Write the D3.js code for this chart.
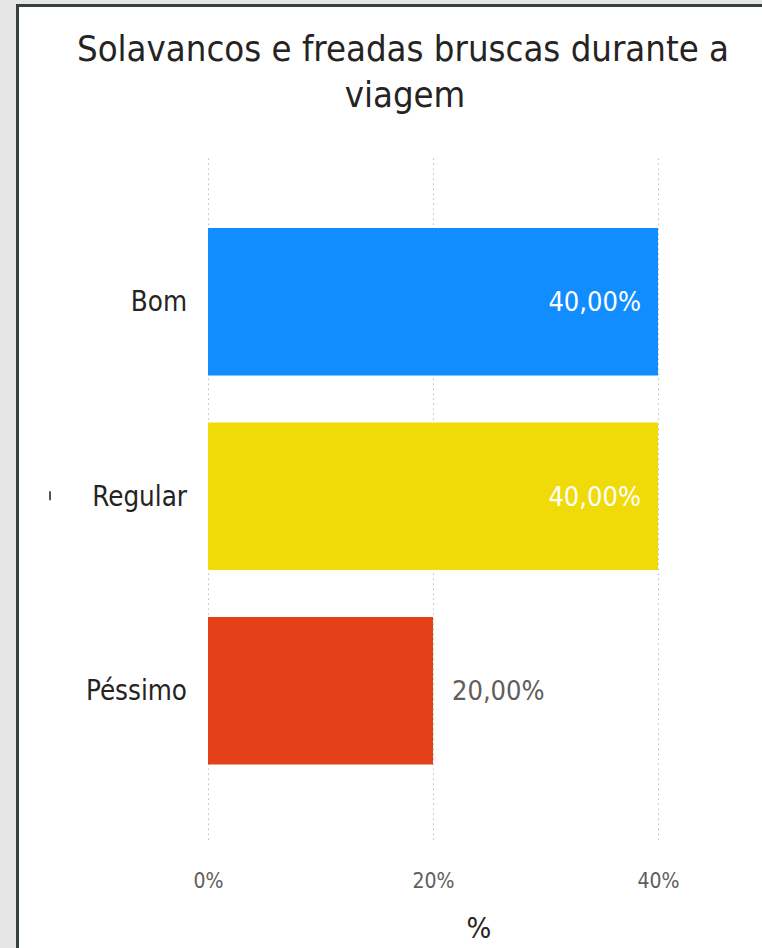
<!DOCTYPE html>
<html>
<head>
<meta charset="utf-8">
<script src="https://cdn.jsdelivr.net/npm/d3@7"></script>
<style>
  body { margin: 0; background: #e6e6e6; }
  svg { display: block; }
  text { font-family: "DejaVu Sans", sans-serif; font-stretch: condensed; }
</style>
</head>
<body>
<svg width="762" height="948"></svg>
<script>
const svg = d3.select('svg');

const width = +svg.attr('width');
const height = +svg.attr('height');

// data
const categories = ['Bom', 'Regular', 'Péssimo'];
const values = [40, 40, 20];
const barColors = ['#118DFF', '#F0DA07', '#E4411A'];
const tickValues = [0, 20, 40];
const titleLines = ['Solavancos e freadas bruscas durante a', 'viagem'];

const margin = { top: 155, left: 208, right: 104, bottom: 108 };
const innerRight = width - margin.right;
const innerBottom = height - margin.bottom;

//panel with the dark frame
svg.append('rect')
  .attr('x', 17.5)
  .attr('y', 5.5)
  .attr('width', width)
  .attr('height', height)
  .attr('fill', '#ffffff')
  .attr('stroke', '#36413a')
  .attr('stroke-width', 3);

//title
svg.append('g')
  .selectAll('text').data(titleLines)
  .enter().append('text')
    .attr('x', (d, i) => i === 0 ? 403 : 405)
    .attr('y', (d, i) => 61 + i * 46)
    .attr('text-anchor', 'middle')
    .attr('font-size', 36.2)
    .attr('fill', '#252423')
    .text(d => d);

//scales
const xScale = d3.scaleLinear()
  .domain([0, 40])
  .range([margin.left, innerRight]);

const yScale = d3.scaleBand()
  .domain(categories)
  .range([204.5, 788])
  .paddingInner(0.2416)
  .paddingOuter(0.1208);

//gridlines + tick labels
const xAxis = d3.axisBottom(xScale)
  .tickValues(tickValues)
  .tickFormat(d => d + '%')
  .tickSize(-(innerBottom - margin.top))
  .tickPadding(33);

const xAxisG = svg.append('g')
  .attr('transform', `translate(0,${innerBottom})`)
  .call(xAxis);
xAxisG.select('.domain').remove();
xAxisG.selectAll('line')
  .attr('stroke', '#bdbdbd')
  .attr('stroke-dasharray', '1.5,3.5');
xAxisG.selectAll('text')
  .attr('font-size', 21)
  .attr('fill', '#605e5c');

//axis title
svg.append('text')
  .attr('x', 479)
  .attr('y', 938)
  .attr('text-anchor', 'middle')
  .attr('font-size', 29)
  .attr('fill', '#252423')
  .text('%');

//category labels
svg.append('g')
  .selectAll('text').data(categories)
  .enter().append('text')
    .attr('x', 187)
    .attr('y', d => yScale(d) + yScale.bandwidth() / 2)
    .attr('dy', '0.35em')
    .attr('text-anchor', 'end')
    .attr('font-size', 27.5)
    .attr('fill', '#252423')
    .text(d => d);

//stray mark left of Regular
svg.append('line')
  .attr('x1', 50).attr('x2', 50)
  .attr('y1', yScale('Regular') + yScale.bandwidth() / 2 - 5)
  .attr('y2', yScale('Regular') + yScale.bandwidth() / 2 + 4)
  .attr('stroke', '#555')
  .attr('stroke-width', 2);

//bars
const rows = categories.map((c, i) => ({ cat: c, value: values[i], color: barColors[i] }));

svg.append('g')
  .selectAll('rect').data(rows)
  .enter().append('rect')
    .attr('x', xScale(0))
    .attr('y', d => yScale(d.cat))
    .attr('width', d => xScale(d.value) - xScale(0))
    .attr('height', yScale.bandwidth())
    .attr('fill', d => d.color);

//data labels: inside when the bar is long, outside otherwise
const fmt = v => v.toFixed(2).replace('.', ',') + '%';
svg.append('g')
  .selectAll('text').data(rows)
  .enter().append('text')
    .attr('x', d => d.value > 30 ? xScale(d.value) - 17 : xScale(d.value) + 19)
    .attr('y', d => yScale(d.cat) + yScale.bandwidth() / 2)
    .attr('dy', '0.35em')
    .attr('text-anchor', d => d.value > 30 ? 'end' : 'start')
    .attr('font-size', 27)
    .attr('fill', d => d.value > 30 ? '#ffffff' : '#605e5c')
    .text(d => fmt(d.value));
</script>
</body>
</html>
